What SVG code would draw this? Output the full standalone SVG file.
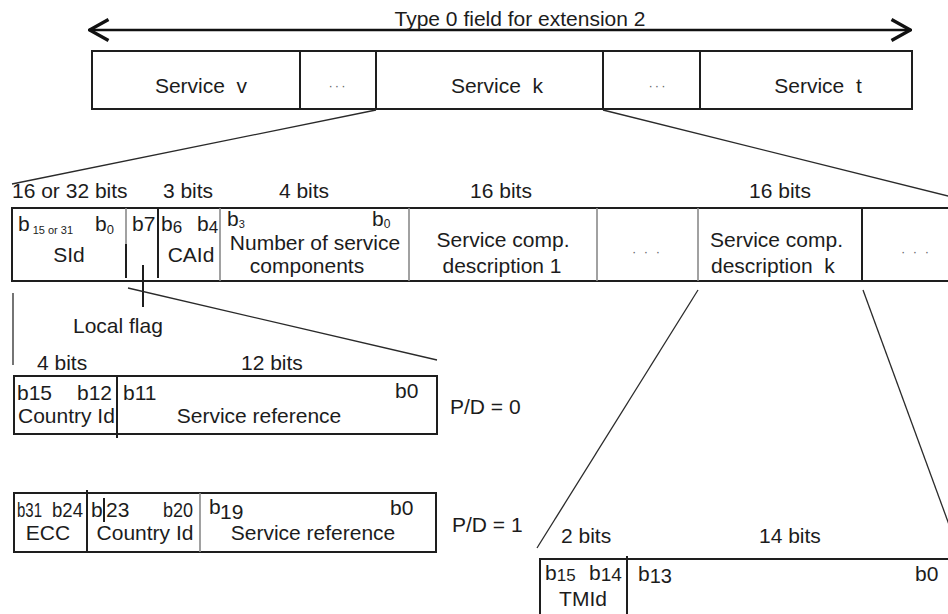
<svg xmlns="http://www.w3.org/2000/svg" width="948" height="614" viewBox="0 0 948 614">
  <style>
    .t{font-family:"Liberation Sans",Arial,sans-serif;font-size:21px;fill:#1c1c1c}
    .m{text-anchor:middle}
    .sm{font-size:11px}
    .dots{font-family:"Liberation Sans",Arial,sans-serif;font-size:13px;fill:#666;text-anchor:middle;letter-spacing:2px}
    .frame{fill:none;stroke:#1e1e1e;stroke-width:2}
    .rule{stroke:#1e1e1e;stroke-width:2}
    .grey{stroke:#8a8a8a;stroke-width:1.6}
    .lead{stroke:#2a2a2a;stroke-width:1.3;fill:none}
  </style>
  <defs>
    <marker id="head" viewBox="0 0 22 24" refX="21" refY="12" markerWidth="22" markerHeight="24" markerUnits="userSpaceOnUse" orient="auto-start-reverse">
      <path d="M1.5,1.5 L20.5,12 L1.5,22.5" fill="none" stroke="#111" stroke-width="3.4"/>
    </marker>
  </defs>
  <rect width="948" height="614" fill="#fff"/>

  <!-- overall extent of the extension field -->
  <g id="extent">
    <line x1="89" y1="30" x2="911" y2="30" stroke="#111" stroke-width="2.4" marker-start="url(#head)" marker-end="url(#head)"/>
    <text class="t m" x="520" y="26">Type 0 field for extension 2</text>
  </g>

  <!-- list of services -->
  <g id="services">
    <rect class="frame" x="92" y="51" width="820" height="58"/>
    <line class="rule" x1="300" y1="51" x2="300" y2="109"/>
    <line class="rule" x1="376" y1="51" x2="376" y2="109"/>
    <line class="rule" x1="603" y1="51" x2="603" y2="109"/>
    <line class="rule" x1="700" y1="51" x2="700" y2="109"/>
    <text class="t m" x="201" y="93" xml:space="preserve">Service  v</text>
    <text class="dots" x="338" y="90">···</text>
    <text class="t m" x="497" y="93" xml:space="preserve">Service  k</text>
    <text class="dots" x="658" y="90">···</text>
    <text class="t m" x="818" y="93" xml:space="preserve">Service  t</text>
  </g>

  <!-- fields of one service -->
  <g id="service-fields">
    <text class="t" x="12" y="198">16 or 32 bits</text>
    <text class="t m" x="188" y="198">3 bits</text>
    <text class="t m" x="304" y="198">4 bits</text>
    <text class="t m" x="501" y="198">16 bits</text>
    <text class="t m" x="780" y="198">16 bits</text>

    <path class="frame" d="M950,208 H12 V281 H950"/>
    <line class="grey" x1="126" y1="208" x2="126" y2="246"/>
    <line class="rule" x1="126" y1="244" x2="126" y2="278"/>
    <line class="rule" x1="158" y1="208" x2="158" y2="278"/>
    <line class="grey" x1="220" y1="208" x2="220" y2="281"/>
    <line class="grey" x1="409" y1="208" x2="409" y2="281"/>
    <line class="grey" x1="597" y1="208" x2="597" y2="281"/>
    <line class="grey" x1="698" y1="208" x2="698" y2="281"/>
    <line class="rule" x1="862" y1="208" x2="862" y2="281"/>

    <text class="t" x="18" y="231">b<tspan class="sm" dx="3" dy="3">15 or 31</tspan></text>
    <text class="t" x="95" y="231">b<tspan font-size="13" dy="3">0</tspan></text>
    <text class="t m" x="69" y="262">SId</text>

    <text class="t" x="132" y="231" font-size="19">b7</text>

    <text class="t" x="161" y="231" font-size="19">b<tspan font-size="17" dy="2">6</tspan></text>
    <text class="t" x="197" y="231" font-size="19">b<tspan font-size="17" dy="2">4</tspan></text>
    <text class="t m" x="191" y="262">CAId</text>

    <text class="t" x="227" y="226" font-size="16">b<tspan font-size="11" dy="2">3</tspan></text>
    <text class="t" x="372" y="226" font-size="16">b<tspan font-size="12" dy="2">0</tspan></text>
    <text class="t m" x="315" y="250">Number of service</text>
    <text class="t m" x="307" y="273">components</text>

    <text class="t m" x="503" y="247">Service comp.</text>
    <text class="t m" x="502" y="273">description 1</text>
    <text class="dots" x="647" y="256">· · ·</text>

    <text class="t" x="710" y="247">Service comp.</text>
    <text class="t" x="711" y="273" xml:space="preserve">description  k</text>
    <text class="dots" x="916" y="256">· · ·</text>
  </g>

  <text class="t" x="73" y="333">Local flag</text>

  <!-- service identifier, P/D = 0 -->
  <g id="sid-16">
    <text class="t" x="37" y="370">4 bits</text>
    <text class="t" x="241" y="370">12 bits</text>
    <rect class="frame" x="14" y="376" width="423" height="58"/>
    <line class="rule" x1="117" y1="376" x2="117" y2="438"/>
    <text class="t" x="17" y="400">b15</text>
    <text class="t" x="77" y="400">b12</text>
    <text class="t" x="123" y="400">b11</text>
    <text class="t" x="395" y="398">b0</text>
    <text class="t" x="18" y="423">Country Id</text>
    <text class="t m" x="259" y="423">Service reference</text>
    <text class="t" x="450" y="414">P/D = 0</text>
  </g>

  <!-- service identifier, P/D = 1 -->
  <g id="sid-32">
    <rect class="frame" x="14" y="493" width="422" height="59"/>
    <line class="rule" x1="87" y1="490" x2="87" y2="551"/>
    <line class="grey" x1="200" y1="493" x2="200" y2="552"/>
    <line class="rule" x1="104" y1="498" x2="104" y2="522"/>
    <text class="t" x="17" y="517" font-size="18" textLength="25" lengthAdjust="spacingAndGlyphs">b31</text>
    <text class="t" x="52" y="517" font-size="18" textLength="31" lengthAdjust="spacingAndGlyphs">b24</text>
    <text class="t" x="91" y="517" font-size="18">b</text>
    <text class="t" x="106" y="517" font-size="18">23</text>
    <text class="t" x="163" y="517" font-size="18" textLength="30" lengthAdjust="spacingAndGlyphs">b20</text>
    <text class="t" x="209" y="514" font-size="17">b</text>
    <text class="t" x="220" y="519" font-size="19">19</text>
    <text class="t" x="390" y="515">b0</text>
    <text class="t m" x="48" y="540">ECC</text>
    <text class="t m" x="145" y="540">Country Id</text>
    <text class="t m" x="313" y="540">Service reference</text>
    <text class="t" x="452" y="532">P/D = 1</text>
  </g>

  <!-- service component description -->
  <g id="component">
    <text class="t" x="561" y="543">2 bits</text>
    <text class="t" x="759" y="543">14 bits</text>
    <path class="frame" d="M540,620 V559 H950"/>
    <line class="rule" x1="627" y1="556" x2="627" y2="620"/>
    <text class="t" x="545" y="580" font-size="17">b<tspan font-size="17" dy="1">15</tspan></text>
    <text class="t" x="589" y="580" font-size="17">b<tspan font-size="19" dy="1">14</tspan></text>
    <text class="t" x="638" y="581" font-size="17">b<tspan font-size="20" dy="2">13</tspan></text>
    <text class="t" x="915" y="581">b0</text>
    <text class="t m" x="583" y="606" font-size="20">TMId</text>
  </g>

  <!-- expansion lines and pointers -->
  <g id="connectors">
    <line class="lead" x1="376" y1="110" x2="12" y2="184"/>
    <line class="lead" x1="603" y1="110" x2="960" y2="199"/>
    <line class="rule" x1="143" y1="265" x2="143" y2="307" stroke-width="1.8"/>
    <line class="lead" x1="128" y1="288" x2="437" y2="360"/>
    <line class="lead" x1="13" y1="293" x2="13" y2="365"/>
    <line class="lead" x1="698" y1="290" x2="537" y2="548"/>
    <line class="lead" x1="863" y1="290" x2="962" y2="560"/>
  </g>
</svg>
